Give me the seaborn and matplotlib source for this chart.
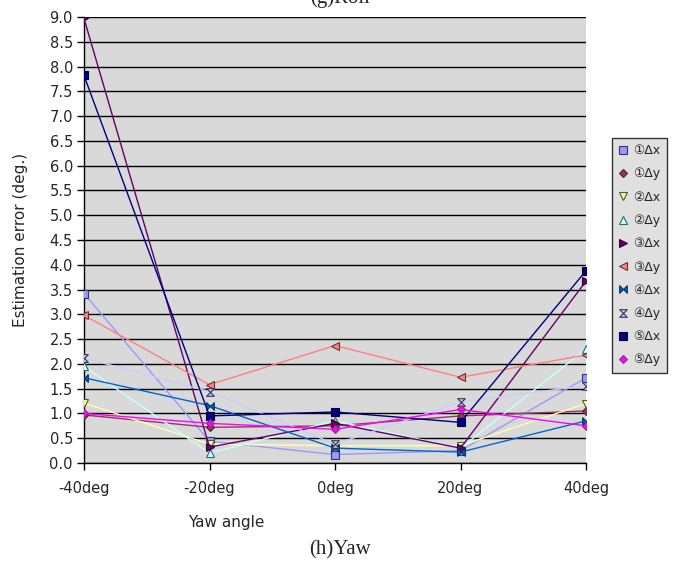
import numpy as np
import pandas as pd
import seaborn as sns
import matplotlib
matplotlib.use("Agg")
import matplotlib.pyplot as plt
from matplotlib.path import Path
from matplotlib.lines import Line2D

# ---- data ----
angles = ["-40deg", "-20deg", "0deg", "20deg", "40deg"]
series_names = ["①Δx", "①Δy", "②Δx", "②Δy", "③Δx", "③Δy", "④Δx", "④Δy", "⑤Δx", "⑤Δy"]
s1x = [3.42, 0.44, 0.17, 0.25, 1.72]
s1y = [0.97, 0.72, 0.75, 0.95, 1.05]
s2x = [1.21, 0.38, 0.35, 0.35, 1.20]
s2y = [1.95, 0.20, 0.85, 0.30, 2.30]
s3x = [8.97, 0.32, 0.80, 0.30, 3.67]
s3y = [2.98, 1.58, 2.37, 1.73, 2.18]
s4x = [1.72, 1.16, 0.30, 0.22, 0.85]
s4y = [2.12, 1.44, 0.38, 1.23, 1.56]
s5x = [7.82, 0.95, 1.03, 0.82, 3.88]
s5y = [1.00, 0.80, 0.68, 1.08, 0.75]
values = [s1x, s1y, s2x, s2y, s3x, s3y, s4x, s4y, s5x, s5y]

# ---- styles ----
colors = ["#9999FF", "#993366", "#FFFF99", "#CCFFFF", "#660066",
          "#FF8080", "#0066CC", "#CCCCFF", "#000080", "#FF00FF"]
line_colors = ["#9999FF", "#993366", "#FFFFB0", "#C8FFFF", "#660066",
               "#FF8080", "#0066CC", "#CCCCFF", "#000080", "#FF00FF"]
edge_colors = ["#333366", "#552233", "#555533", "#336666", "#330033",
               "#663333", "#003366", "#333355", "#000033", "#883388"]
bowtie = Path([(-1, 1), (-1, -1), (0, 0), (1, -1), (1, 1), (0, 0), (-1, 1)],
              [Path.MOVETO, Path.LINETO, Path.LINETO, Path.LINETO, Path.LINETO,
               Path.LINETO, Path.CLOSEPOLY])
hourglass = Path([(-1, 1), (1, 1), (0, 0), (1, -1), (-1, -1), (0, 0), (-1, 1)],
                 [Path.MOVETO, Path.LINETO, Path.LINETO, Path.LINETO, Path.LINETO,
                  Path.LINETO, Path.CLOSEPOLY])
markers = ["s", "D", "v", "^", ">", "<", bowtie, hourglass, "s", "D"]
msizes = [5.5, 4.0, 5.5, 5.5, 5.5, 5.5, 5.5, 5.5, 5.5, 4.0]

rows = []
for name, vals in zip(series_names, values):
    for i, v in enumerate(vals):
        rows.append({"series": name, "xi": i * 20 - 40, "value": v})
df = pd.DataFrame(rows)

sns.set_style("white")
plt.rcParams["font.family"] = ["DejaVu Sans", "Noto Sans CJK JP"]

fig = plt.figure(figsize=(6.8, 5.65), dpi=100)
ax = fig.add_axes([84 / 680, 1 - 463 / 565, 502 / 680, 446 / 565])
ax.set_facecolor("#D9D9D9")

for k, name in enumerate(series_names):
    sub = df[df["series"] == name]
    sns.lineplot(data=sub, x="xi", y="value", ax=ax, color=line_colors[k],
                 linewidth=1.0, marker=markers[k], markersize=msizes[k],
                 markerfacecolor=colors[k], markeredgecolor=edge_colors[k],
                 markeredgewidth=0.8, legend=False, zorder=3 + k * 0.01)

ax.set_xlim(-40, 40)
ax.set_ylim(0, 9.0)
ax.set_xticks([-40, -20, 0, 20, 40])
ax.set_xticklabels(angles, fontsize=10.5)
yt = np.arange(0, 9.01, 0.5)
ax.set_yticks(yt)
ax.set_yticklabels([f"{v:.1f}" for v in yt], fontsize=10.5)
ax.yaxis.grid(True, color="black", linewidth=1.0)
ax.set_axisbelow(True)
ax.tick_params(axis="both", direction="out", length=5, width=1, color="black",
               left=True, bottom=True)
ax.tick_params(axis="x", pad=8)
ax.tick_params(axis="y", pad=3)
for s in ["top", "right"]:
    ax.spines[s].set_visible(False)
for s in ["left", "bottom"]:
    ax.spines[s].set_color("black")
    ax.spines[s].set_linewidth(1.0)

ax.set_xlabel("Yaw angle", fontsize=11)
ax.xaxis.set_label_coords((226 - 84) / 502, (463 - 515) / 446)
ax.set_ylabel("Estimation error (deg.)", fontsize=11)
ax.yaxis.set_label_coords(-(84 - 28) / 502, 0.5)

handles = [Line2D([], [], linestyle="none", marker=markers[k], markersize=msizes[k],
                  markerfacecolor=colors[k], markeredgecolor=edge_colors[k],
                  markeredgewidth=0.8) for k in range(len(series_names))]
leg = ax.legend(handles, series_names, loc="upper left",
                bbox_to_anchor=((612 - 84) / 502, (463 - 138) / 446),
                fontsize=9, frameon=True, fancybox=False, framealpha=1,
                facecolor="#E0E0E0", edgecolor="#333333", handlelength=0.8,
                handletextpad=0.4, labelspacing=0.82, borderpad=0.5,
                borderaxespad=0)
leg.get_frame().set_linewidth(1.0)

fig.text(0.5, 1 + 2 / 565, "(g)Roll", ha="center", va="center",
         family="Liberation Serif", fontsize=15)
fig.text(0.5, 1 - 550 / 565, "(h)Yaw", ha="center", va="center",
         family="Liberation Serif", fontsize=15)

fig.savefig("out.png", dpi=100)
